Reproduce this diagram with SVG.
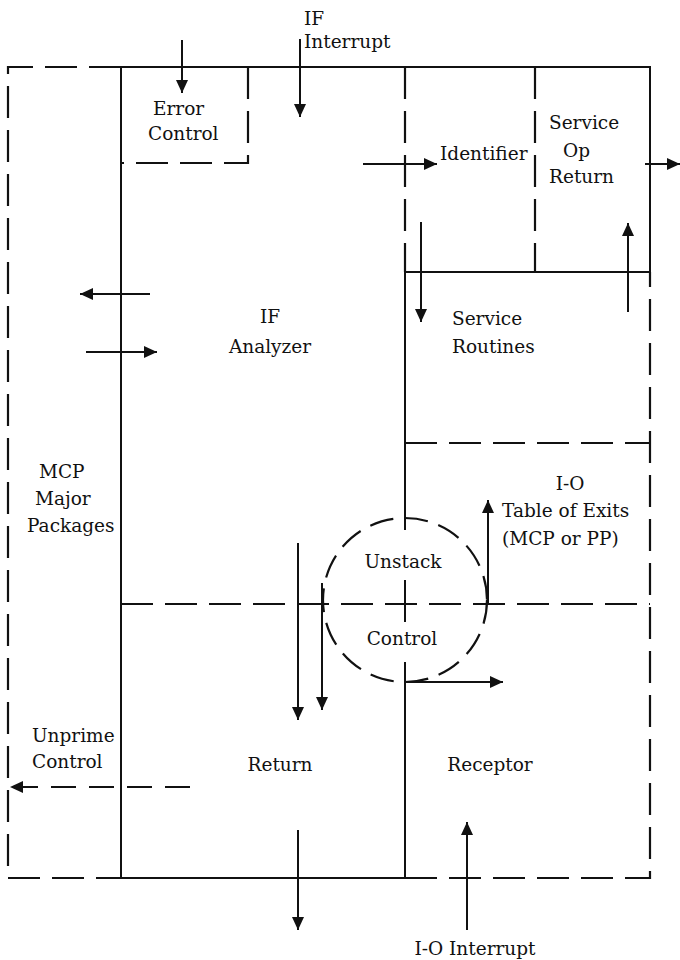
<svg xmlns="http://www.w3.org/2000/svg" width="680" height="960" viewBox="0 0 680 960">
<defs>
<style>
.t{font-family:"DejaVu Serif","Liberation Serif",serif;font-size:18.5px;fill:#111}
.s{stroke:#111;stroke-width:2;fill:none}
.d{stroke:#111;stroke-width:2.2;fill:none;stroke-dasharray:32 12}
.dc{stroke:#111;stroke-width:2.2;fill:none;stroke-dasharray:24 11}
.a{stroke:#111;stroke-width:2;fill:none;marker-end:url(#ah)}
.ad{stroke:#111;stroke-width:2;fill:none;stroke-dasharray:25 13;marker-end:url(#ah)}
</style>
<marker id="ah" markerUnits="userSpaceOnUse" markerWidth="14" markerHeight="12" refX="13" refY="6" orient="auto">
<path d="M0,0 L13,6 L0,12 Z" fill="#111"/>
</marker>
</defs>
<rect width="680" height="960" fill="#fff"/>

<g id="frame">
<path class="d" d="M121,67 H8 V878 H121"/>
<path class="d" d="M405,878 H650 V272"/>
<path class="s" d="M121,67 H650 V272 H405"/>
<path class="s" d="M121,67 V878 H405"/>
<path class="d" d="M405,67 V272"/>
<path class="d" d="M535,67 V272"/>
<path class="s" d="M405,272 V530 M405,580 V622 M405,662 V878"/>
<path class="d" d="M405,443 H650"/>
<path class="d" d="M121,604 H650"/>
</g>

<g id="node-error-control">
<path class="d" d="M248,67 V163 H121"/>
<text class="t" x="153" y="115">Error</text>
<text class="t" x="148" y="140">Control</text>
</g>

<g id="node-if-interrupt">
<text class="t" x="304" y="25">IF</text>
<text class="t" x="304" y="48">Interrupt</text>
</g>

<g id="node-identifier">
<text class="t" x="440" y="160">Identifier</text>
</g>

<g id="node-service-op-return">
<text class="t" x="549" y="129">Service</text>
<text class="t" x="563" y="157">Op</text>
<text class="t" x="549" y="183">Return</text>
</g>

<g id="node-if-analyzer">
<text class="t" x="270" y="323" text-anchor="middle">IF</text>
<text class="t" x="270" y="353" text-anchor="middle">Analyzer</text>
</g>

<g id="node-service-routines">
<text class="t" x="452" y="325">Service</text>
<text class="t" x="452" y="353">Routines</text>
</g>

<g id="node-mcp-major-packages">
<text class="t" x="39" y="478">MCP</text>
<text class="t" x="35" y="505">Major</text>
<text class="t" x="27" y="532">Packages</text>
</g>

<g id="node-io-table">
<text class="t" x="570" y="490" text-anchor="middle">I-O</text>
<text class="t" x="502" y="517">Table of Exits</text>
<text class="t" x="502" y="545">(MCP or PP)</text>
</g>

<g id="node-unstack-control">
<circle class="dc" cx="405" cy="600" r="82"/>
<text class="t" x="403" y="568" text-anchor="middle">Unstack</text>
<text class="t" x="402" y="645" text-anchor="middle">Control</text>
</g>

<g id="node-unprime-control">
<text class="t" x="32" y="742">Unprime</text>
<text class="t" x="32" y="768">Control</text>
</g>

<g id="node-return">
<text class="t" x="280" y="771" text-anchor="middle">Return</text>
</g>

<g id="node-receptor">
<text class="t" x="490" y="771" text-anchor="middle">Receptor</text>
</g>

<g id="node-io-interrupt">
<text class="t" x="475" y="955" text-anchor="middle">I-O Interrupt</text>
</g>

<g id="connectors">
<path class="a" d="M182,40 V93"/>
<path class="a" d="M300,39 V117"/>
<path class="a" d="M363,164 H437"/>
<path class="a" d="M645,164 H680"/>
<path class="a" d="M628,312 V223"/>
<path class="a" d="M421,222 V322"/>
<path class="a" d="M150,294 H80"/>
<path class="a" d="M86,352 H157"/>
<path class="a" d="M488,604 V500"/>
<path class="a" d="M405,682 H503"/>
<path class="a" d="M298,543 V720"/>
<path class="a" d="M322,583 V710"/>
<path class="a" d="M298,830 V930"/>
<path class="a" d="M467,930 V822"/>
<path class="ad" d="M190,787 H10"/>
</g>
</svg>
